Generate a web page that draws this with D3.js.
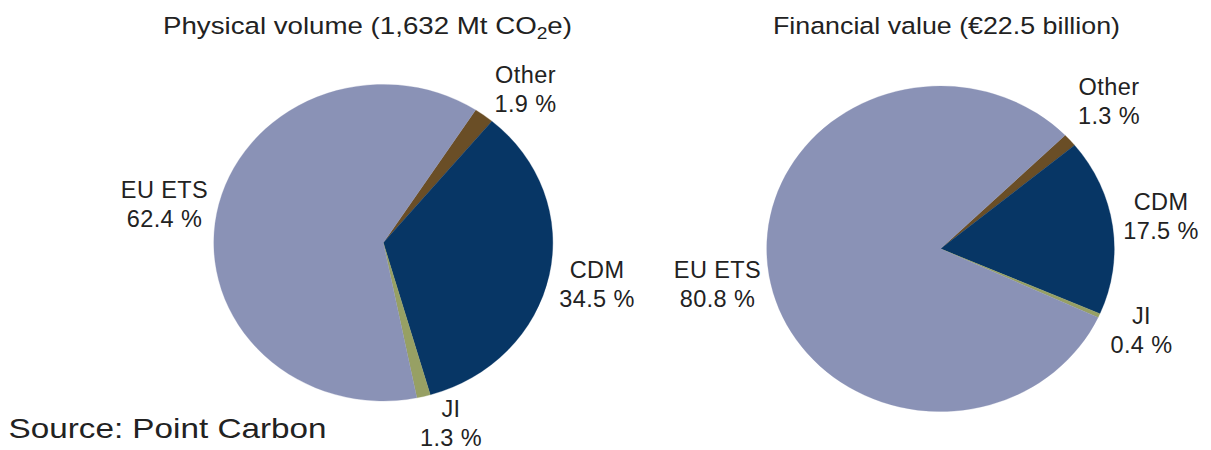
<!DOCTYPE html>
<html>
<head>
<meta charset="utf-8">
<script src="https://cdn.jsdelivr.net/npm/d3@7"></script>
<style>
  html, body { margin: 0; padding: 0; background: #fff; }
  svg { display: block; }
  text { font-family: "Liberation Sans", Arial, sans-serif; fill: #222; }
</style>
</head>
<body>
<svg id="chart" width="1211" height="450"></svg>
<script>
// ---- data ----
const categories = ["Other", "CDM", "JI", "EU ETS"];
const volumeShares = [1.9, 34.5, 1.3, 62.4];   // Physical volume, %
const valueShares  = [1.3, 17.5, 0.4, 80.8];   // Financial value, %
const titleMain = ["Physical volume (1,632 Mt CO", "Financial value (€22.5 billion)"];
const sourceText = "Source: Point Carbon";

// ---- style / layout ----
const colors = d3.scaleOrdinal()
  .domain(categories)
  .range(["#6a4e26", "#073665", "#97a064", "#8a92b6"]);

const pies = [
  { shares: volumeShares, cx: 383.3, cy: 242.7, rx: 169.5, ry: 158.3, start: 33.0,
    titleX: 367.5, titleW: 409, titleSub: true,
    labels: { "Other": [525.5, 82.7], "CDM": [597, 278.3], "JI": [451, 417], "EU ETS": [164.5, 197.7] } },
  { shares: valueShares, cx: 940.5, cy: 248.8, rx: 173.8, ry: 162.8, start: 45.8,
    titleX: 946.5, titleW: 347, titleSub: false,
    labels: { "Other": [1109, 95], "CDM": [1161, 209.5], "JI": [1141.5, 324], "EU ETS": [717.5, 278.3] } }
];

const svg = d3.select("#chart");
svg.append("rect").attr("width", 1211).attr("height", 450).attr("fill", "#fff");

const fmt = d => d3.format(".1f")(d) + " %";

pies.forEach((p, pi) => {
  const rad = p.start * Math.PI / 180;
  const pie = d3.pie().sort(null).value(d => d.v)
    .startAngle(rad).endAngle(rad + 2 * Math.PI);
  const data = categories.map((c, i) => ({ c, v: p.shares[i] }));
  const arc = d3.arc().innerRadius(0).outerRadius(p.rx);

  const g = svg.append("g")
    .attr("transform", `translate(${p.cx},${p.cy}) scale(1,${p.ry / p.rx})`);
  g.selectAll("path").data(pie(data)).join("path")
    .attr("d", arc)
    .attr("fill", d => colors(d.data.c))
    .attr("stroke", d => colors(d.data.c))
    .attr("stroke-width", 0.3);

  // labels
  data.forEach(d => {
    const [x, y] = p.labels[d.c];
    const t = svg.append("text")
      .attr("text-anchor", "middle")
      .attr("font-size", 23.5)
      .attr("letter-spacing", 0.4);
    t.append("tspan").attr("x", x).attr("y", y).text(d.c);
    t.append("tspan").attr("x", x).attr("y", y + 29).text(fmt(d.v));
  });

  // title
  const tt = svg.append("text")
    .attr("x", p.titleX).attr("y", 34.3)
    .attr("text-anchor", "middle")
    .attr("font-size", 24.5)
    .attr("textLength", p.titleW)
    .attr("lengthAdjust", "spacingAndGlyphs");
  if (p.titleSub) {
    tt.append("tspan").text(titleMain[pi]);
    tt.append("tspan").attr("font-size", 17).attr("dy", 5).text("2");
    tt.append("tspan").attr("dy", -5).text("e)");
  } else {
    tt.text(titleMain[pi]);
  }
});

svg.append("text")
  .attr("x", 8.5).attr("y", 438.3)
  .attr("font-size", 28)
  .attr("textLength", 318)
  .attr("lengthAdjust", "spacingAndGlyphs")
  .text(sourceText);
</script>
</body>
</html>
